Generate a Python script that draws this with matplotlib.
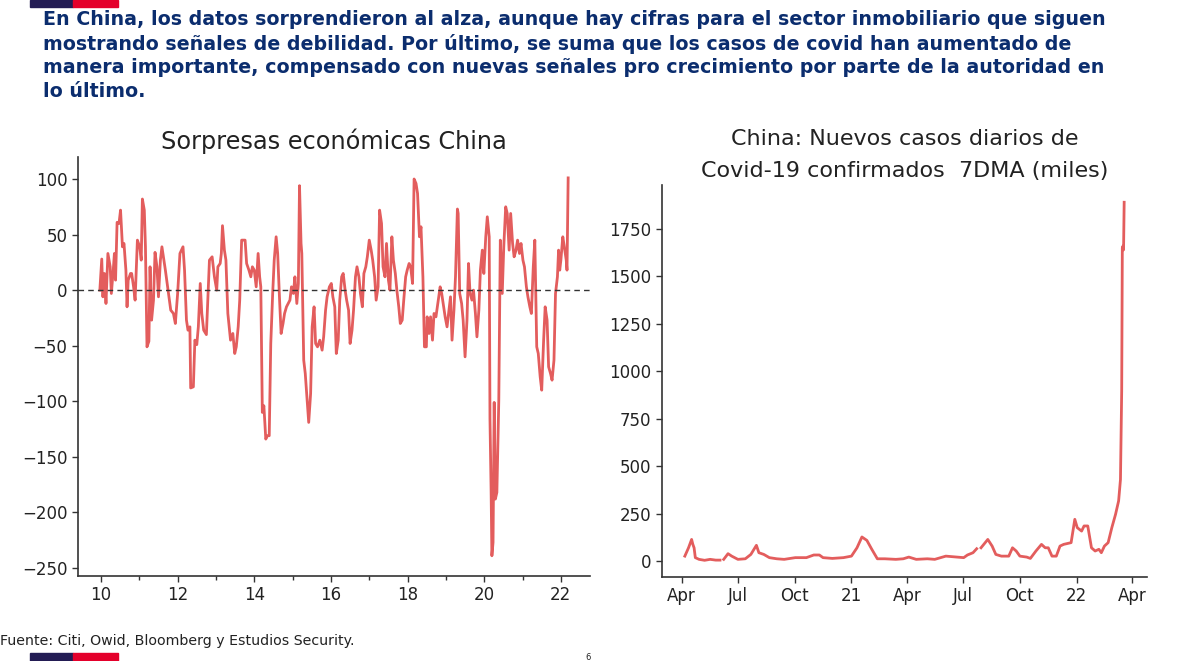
import matplotlib
matplotlib.use("Agg")
import matplotlib.pyplot as plt
import matplotlib.dates as mdates
from matplotlib.patches import Rectangle
import numpy as np
import datetime as dt

# ---------------- data ----------------
surprise_years = [9.97, 10.02, 10.05, 10.09, 10.13, 10.18, 10.24, 10.27, 10.32, 10.35, 10.38, 10.42, 10.47, 10.51,
                  10.56, 10.60, 10.65, 10.68, 10.71, 10.77, 10.80, 10.85, 10.89, 10.95, 11.01, 11.05, 11.08, 11.13,
                  11.16, 11.20, 11.25, 11.28, 11.32, 11.37, 11.41, 11.46, 11.50, 11.55, 11.59, 11.64, 11.68, 11.76,
                  11.82, 11.89, 11.94, 12.00, 12.06, 12.14, 12.18, 12.23, 12.27, 12.32, 12.34, 12.41, 12.45, 12.50,
                  12.54, 12.59, 12.63, 12.68, 12.75, 12.78, 12.83, 12.90, 12.96, 13.02, 13.05, 13.11, 13.14, 13.17,
                  13.22, 13.26, 13.31, 13.38, 13.44, 13.49, 13.53, 13.58, 13.62, 13.67, 13.76, 13.80, 13.86, 13.91,
                  13.95, 14.00, 14.05, 14.10, 14.14, 14.17, 14.21, 14.25, 14.30, 14.34, 14.39, 14.43, 14.48, 14.52,
                  14.57, 14.61, 14.66, 14.70, 14.75, 14.79, 14.84, 14.93, 14.97, 15.02, 15.06, 15.11, 15.15, 15.18,
                  15.22, 15.24, 15.29, 15.33, 15.38, 15.42, 15.47, 15.51, 15.56, 15.60, 15.65, 15.71, 15.77, 15.81,
                  15.86, 15.90, 15.96, 16.01, 16.05, 16.10, 16.14, 16.19, 16.23, 16.28, 16.32, 16.37, 16.41, 16.46,
                  16.50, 16.55, 16.59, 16.64, 16.68, 16.73, 16.77, 16.82, 16.86, 16.91, 16.95, 17.00, 17.05, 17.09,
                  17.14, 17.18, 17.23, 17.27, 17.32, 17.36, 17.41, 17.45, 17.50, 17.54, 17.59, 17.63, 17.68, 17.72,
                  17.77, 17.81, 17.86, 17.90, 17.95, 17.99, 18.04, 18.08, 18.13, 18.17, 18.22, 18.26, 18.31, 18.35,
                  18.40, 18.44, 18.49, 18.51, 18.56, 18.60, 18.65, 18.69, 18.74, 18.80, 18.85, 18.89, 18.94, 18.98,
                  19.03, 19.07, 19.12, 19.16, 19.21, 19.25, 19.30, 19.32, 19.36, 19.41, 19.45, 19.50, 19.55, 19.59,
                  19.63, 19.68, 19.72, 19.77, 19.81, 19.86, 19.90, 19.95, 19.99, 20.04, 20.08, 20.13, 20.15, 20.18,
                  20.20, 20.23, 20.26, 20.29, 20.33, 20.38, 20.42, 20.47, 20.51, 20.56, 20.60, 20.65, 20.69, 20.74,
                  20.78, 20.83, 20.87, 20.92, 20.96, 21.01, 21.05, 21.10, 21.14, 21.19, 21.23, 21.28, 21.32, 21.37,
                  21.41, 21.46, 21.50, 21.55, 21.59, 21.64, 21.68, 21.73, 21.77, 21.82, 21.86, 21.91, 21.94, 21.97,
                  22.00, 22.05, 22.09, 22.14, 22.16, 22.19]
surprise_values = [0, 28, -6, 15, -12, 33, 21, -3, 18, 33, 9, 61, 60, 72,
                   39, 42, 18, -15, 9, 15, 15, 3, -9, 45, 39, 27, 82, 72,
                   39, -51, -46, 21, -27, -9, 34, 21, -6, 27, 39, 27, 18, -3,
                   -18, -21, -30, -3, 33, 39, 18, -27, -36, -33, -88, -87, -45, -49,
                   -33, 6, -21, -36, -40, -15, 27, 30, 12, 0, 21, 24, 33, 58,
                   36, 27, -21, -45, -39, -57, -51, -33, -9, 45, 45, 24, 18, 12,
                   21, 18, 3, 33, 12, 3, -110, -104, -134, -131, -131, -48, -3, 27,
                   48, 33, -9, -39, -30, -21, -15, -9, 3, -3, 12, -12, 6, 94,
                   42, 33, -63, -75, -99, -119, -93, -33, -15, -48, -51, -45, -54, -42,
                   -18, -6, 3, 6, -6, -15, -57, -45, -9, 12, 15, 0, -9, -18,
                   -48, -36, -18, 12, 21, 12, -3, -15, 15, 21, 30, 45, 36, 27,
                   12, -9, 3, 72, 60, 21, 12, 42, 9, 0, 48, 27, 15, 0,
                   -15, -30, -27, -9, 12, 18, 24, 21, 6, 100, 96, 87, 48, 57,
                   12, -51, -51, -24, -39, -24, -45, -21, -24, -9, 3, -3, -15, -24,
                   -33, -21, -6, -45, -18, 12, 73, 69, -3, -12, -27, -60, -27, 24,
                   -3, -9, 0, -21, -42, -18, 18, 36, 15, 48, 66, 48, -116, -182,
                   -239, -227, -101, -188, -182, -99, 45, -3, 39, 75, 69, 36, 69, 42,
                   30, 36, 45, 33, 42, 27, 21, 3, -6, -15, -21, 21, 45, -51,
                   -57, -78, -90, -45, -15, -27, -69, -75, -81, -63, -3, 12, 36, 18,
                   27, 48, 39, 27, 18, 101]

covid_dates = ["2020-04-06", "2020-04-12", "2020-04-17", "2020-04-19", "2020-04-21", "2020-04-23", "2020-04-29",
               "2020-05-08", "2020-05-17", "2020-05-26", "2020-06-02", "2020-06-05", "2020-06-08", "2020-06-15",
               "2020-06-21", "2020-07-01", "2020-07-13", "2020-07-22", "2020-07-31", "2020-08-04", "2020-08-12",
               "2020-08-21", "2020-09-02", "2020-09-14", "2020-10-02", "2020-10-20", "2020-11-01", "2020-11-10",
               "2020-11-16", "2020-12-01", "2020-12-19", "2021-01-01", "2021-01-10", "2021-01-18", "2021-01-26",
               "2021-02-03", "2021-02-12", "2021-02-24", "2021-03-14", "2021-03-26", "2021-04-04", "2021-04-16",
               "2021-05-04", "2021-05-16", "2021-06-03", "2021-06-21", "2021-07-02", "2021-07-08", "2021-07-17",
               "2021-07-23", "2021-07-26", "2021-07-30", "2021-08-10", "2021-08-17", "2021-08-23", "2021-09-01",
               "2021-09-13", "2021-09-19", "2021-09-25", "2021-10-01", "2021-10-12", "2021-10-18", "2021-10-27",
               "2021-11-05", "2021-11-11", "2021-11-16", "2021-11-22", "2021-11-29", "2021-12-05", "2021-12-11",
               "2021-12-23", "2021-12-29", "2022-01-02", "2022-01-09", "2022-01-13", "2022-01-19", "2022-01-25",
               "2022-01-31", "2022-02-06", "2022-02-10", "2022-02-15", "2022-02-21", "2022-02-27", "2022-03-05",
               "2022-03-10", "2022-03-13", "2022-03-15", "2022-03-16", "2022-03-17", "2022-03-18", "2022-03-19"]
covid_values = [26, 70, 114, 88, 70, 18, 9,
                4, 9, 5, 5, np.nan, 9, 39,
                26, 9, 12, 35, 83, 44, 35,
                18, 12, 9, 18, 18, 32, 32,
                18, 14, 18, 26, 70, 127, 109,
                62, 12, 12, 9, 12, 21, 9,
                12, 9, 26, 21, 18, 32, 44,
                65, np.nan, 70, 114, 79, 35, 26,
                26, 70, 53, 26, 21, 14, 53,
                88, 70, 70, 26, 26, 79, 88,
                97, 220, 176, 158, 185, 185, 70,
                53, 62, 44, 79, 97, 176, 246,
                317, 430, 900, 1650, 1660, 1640, 1891]

left_xticks = [10, 12, 14, 16, 18, 20, 22]
left_yticks = [100, 50, 0, -50, -100, -150, -200, -250]
right_yticks = [0, 250, 500, 750, 1000, 1250, 1500, 1750]
right_xtick_dates = ["2020-04-01", "2020-07-01", "2020-10-01", "2021-01-01", "2021-04-01",
                     "2021-07-01", "2021-10-01", "2022-01-01", "2022-04-01"]
right_xtick_labels = ["Apr", "Jul", "Oct", "21", "Apr", "Jul", "Oct", "22", "Apr"]

header = ("En China, los datos sorprendieron al alza, aunque hay cifras para el sector inmobiliario que siguen\n"
          "mostrando señales de debilidad. Por último, se suma que los casos de covid han aumentado de\n"
          "manera importante, compensado con nuevas señales pro crecimiento por parte de la autoridad en\n"
          "lo último.")

# ---------------- style ----------------
W, H = 1178, 661
LINE = "#e35d5d"
NAVY = "#0b2d6e"
TXT = "#222222"
plt.rcParams["font.family"] = ["DejaVu Sans"]

fig = plt.figure(figsize=(W / 100, H / 100), dpi=100)

def fx(px):
    return px / W

def fy(py):
    return 1 - py / H

# top and bottom brand bars
fig.patches.append(Rectangle((fx(30), fy(7)), fx(43), 7 / H, transform=fig.transFigure, color="#231c54"))
fig.patches.append(Rectangle((fx(73), fy(7)), fx(45), 7 / H, transform=fig.transFigure, color="#e4002b"))
fig.patches.append(Rectangle((fx(30), 0), fx(43), 8 / H, transform=fig.transFigure, color="#231c54"))
fig.patches.append(Rectangle((fx(73), 0), fx(45), 8 / H, transform=fig.transFigure, color="#e4002b"))

fig.text(fx(43), fy(10), header, ha="left", va="top", fontsize=13.7, fontweight="bold",
         color=NAVY, linespacing=1.3)
fig.text(fx(0), fy(641), "Fuente: Citi, Owid, Bloomberg y Estudios Security.", ha="left", va="center",
         fontsize=10.2, color=TXT)
fig.text(fx(588), fy(657), "6", ha="center", va="center", fontsize=6, color=TXT)

# ---------------- left chart ----------------
axL = fig.add_axes([fx(78), fy(576), fx(590 - 78), (576 - 157) / H])
axL.plot(surprise_years, surprise_values, color=LINE, lw=2.0, solid_joinstyle="round")
axL.axhline(0, color="#333333", lw=1.0, ls=(0, (4, 3)))
axL.set_xlim(9.4, 22.76)
axL.set_ylim(-257.2, 119.8)
axL.set_xticks(left_xticks)
axL.set_xticks(np.arange(11, 23, 2), minor=True)
axL.set_yticks(left_yticks)
axL.set_yticklabels([str(v).replace("-", "\u2212") for v in left_yticks])
axL.set_title("Sorpresas económicas China", fontsize=17.3, color=TXT, pad=6)

# ---------------- right chart ----------------
cd = [mdates.date2num(dt.datetime.strptime(d, "%Y-%m-%d")) for d in covid_dates]
axR = fig.add_axes([fx(662), fy(577), fx(1147 - 662), (577 - 185) / H])
axR.plot(cd, covid_values, color=LINE, lw=2.0, solid_joinstyle="round")
x0 = mdates.date2num(dt.datetime(2020, 2, 29))
x1 = mdates.date2num(dt.datetime(2022, 4, 25))
axR.set_xlim(x0, x1)
axR.set_ylim(-84, 1982)
tick_nums = [mdates.date2num(dt.datetime.strptime(d, "%Y-%m-%d")) for d in right_xtick_dates]
axR.set_xticks(tick_nums)
axR.set_xticklabels(right_xtick_labels)
axR.set_yticks(right_yticks)
axR.set_title("China: Nuevos casos diarios de\nCovid-19 confirmados  7DMA (miles)", fontsize=16,
              color=TXT, pad=6, linespacing=1.7)

for ax in (axL, axR):
    for s in ("top", "right"):
        ax.spines[s].set_visible(False)
    for s in ("left", "bottom"):
        ax.spines[s].set_color("#333333")
        ax.spines[s].set_linewidth(1.2)
    ax.tick_params(axis="both", which="major", labelsize=12, colors="#333333", labelcolor=TXT,
                   length=4, width=1)
    ax.tick_params(axis="both", which="minor", length=3, width=1, colors="#333333")

fig.savefig("out.png", dpi=100)
